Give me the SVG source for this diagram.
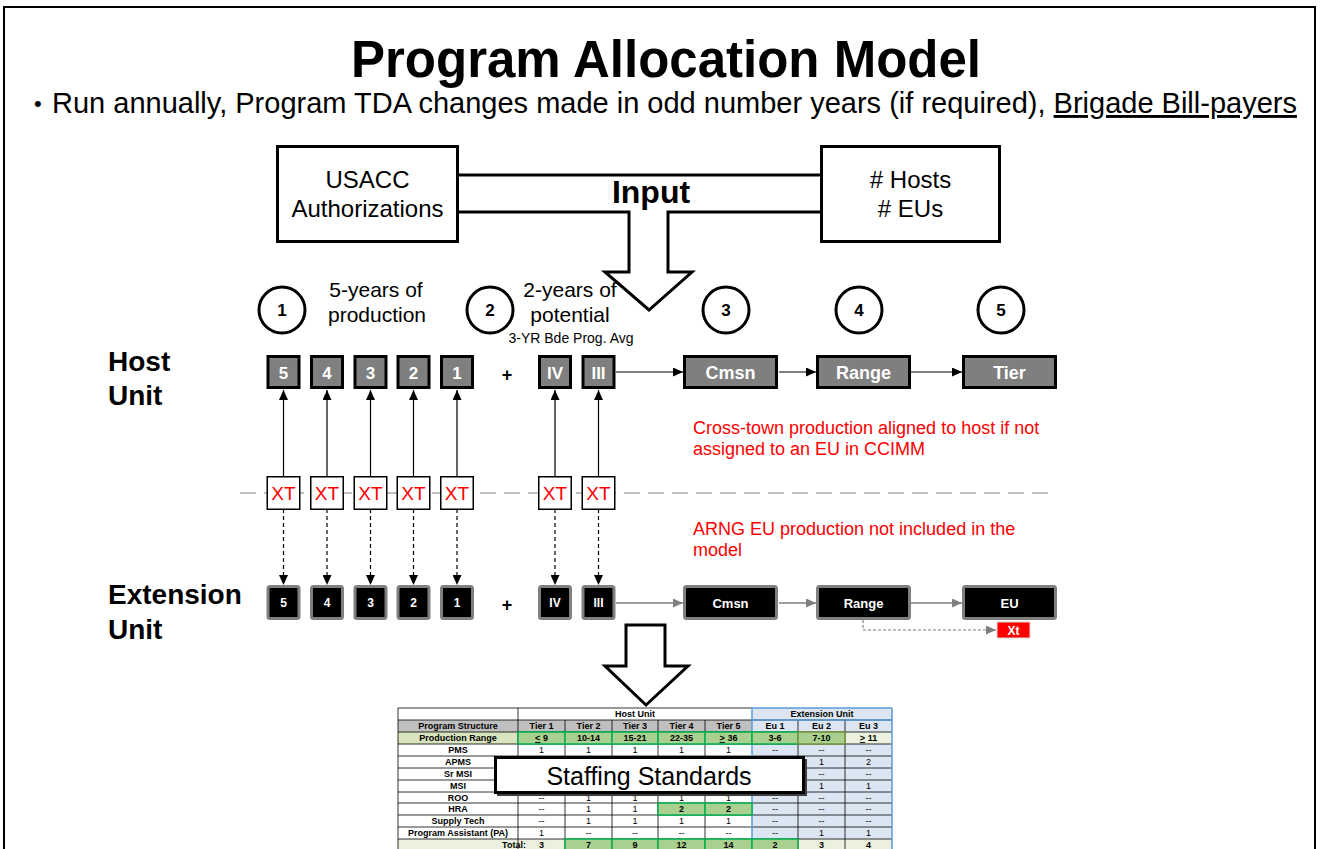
<svg xmlns="http://www.w3.org/2000/svg" width="1320" height="849" viewBox="0 0 1320 849">
  <style>
    text { font-family: "Liberation Sans", Arial, sans-serif; }
    .title { font-size: 51px; font-weight: bold; text-anchor: middle; }
    .bullet { font-size: 29px; }
    .boxtxt { font-size: 24px; text-anchor: middle; }
    .input { font-size: 32px; font-weight: bold; text-anchor: middle; }
    .circ { fill: #fff; stroke: #000; stroke-width: 3; }
    .circnum { font-size: 17px; font-weight: bold; text-anchor: middle; }
    .cap { font-size: 21px; text-anchor: middle; }
    .small { font-size: 14px; text-anchor: middle; }
    .rowlbl { font-size: 28px; font-weight: bold; }
    .hbox { fill: #7f7f7f; stroke: #000; stroke-width: 3; }
    .htxt { fill: #fff; font-size: 17px; font-weight: bold; text-anchor: middle; }
    .htxt2 { fill: #fff; font-size: 18px; font-weight: bold; text-anchor: middle; }
    .ebox { fill: #000; stroke: #7f7f7f; stroke-width: 3; }
    .etxt { fill: #fff; font-size: 12px; font-weight: bold; text-anchor: middle; }
    .etxt2 { fill: #fff; font-size: 13px; font-weight: bold; text-anchor: middle; }
    .xt { fill: #fff; stroke: #000; stroke-width: 1.5; }
    .xttxt { fill: #ff0000; font-size: 19px; text-anchor: middle; }
    .plus { font-size: 18px; font-weight: bold; text-anchor: middle; }
    .note { fill: #ff0000; font-size: 18px; }
    .up { stroke: #000; stroke-width: 1.2; fill: none; }
    .down { stroke: #000; stroke-width: 1.2; stroke-dasharray: 4 3; fill: none; }
    .flow { stroke: #000; stroke-width: 1.2; fill: none; }
    .gflow { stroke: #7f7f7f; stroke-width: 1.5; fill: none; }
    .big { fill: #fff; stroke: #000; stroke-width: 3; }
    .t { font-size: 9px; text-anchor: middle; }
    .tb { font-size: 9px; font-weight: bold; text-anchor: middle; }
    .grid { stroke: #000; stroke-width: 0.8; fill: none; }
    .blue { stroke: #5b9bd5; stroke-width: 1.5; fill: none; }
    .green { fill: #a9d08e; stroke: #00b050; stroke-width: 1.5; }
  </style>
  <defs>
    <marker id="ah" markerUnits="userSpaceOnUse" markerWidth="10" markerHeight="9" refX="10" refY="4.5" orient="auto">
      <path d="M0,0 L10,4.5 L0,9 z" fill="#000"/>
    </marker>
    <marker id="ahg" markerUnits="userSpaceOnUse" markerWidth="10" markerHeight="9" refX="10" refY="4.5" orient="auto">
      <path d="M0,0 L10,4.5 L0,9 z" fill="#7f7f7f"/>
    </marker>
  </defs>

  <rect width="1320" height="849" fill="#fff"/>
  <!-- slide frame -->
  <path d="M4,849 V7 H1315 V849" fill="none" stroke="#000" stroke-width="2"/>

  <!-- heading -->
  <text class="title" x="666" y="77">Program Allocation Model</text>
  <text x="34" y="111" font-size="22">•</text>
  <text class="bullet" x="52" y="113">Run annually, Program TDA changes made in odd number years (if required), <tspan text-decoration="underline">Brigade Bill-payers</tspan></text>

  <!-- input sources -->
  <g id="usacc">
    <rect x="277.5" y="146.5" width="180" height="95" fill="#fff" stroke="#000" stroke-width="3"/>
    <text class="boxtxt" x="367.5" y="188">USACC</text>
    <text class="boxtxt" x="367.5" y="217">Authorizations</text>
  </g>
  <g id="hosts-eus">
    <rect x="821.5" y="146.5" width="178" height="95" fill="#fff" stroke="#000" stroke-width="3"/>
    <text class="boxtxt" x="910.5" y="188"># Hosts</text>
    <text class="boxtxt" x="910.5" y="217"># EUs</text>
  </g>
  <g id="input-arrow">
    <path d="M459,175 H821" fill="none" stroke="#000" stroke-width="3"/>
    <path d="M459,212 H629 V272 H605 L649,310 L692,272 H668 V212 H821" fill="none" stroke="#000" stroke-width="3" stroke-linejoin="miter"/>
    <text class="input" x="651" y="203">Input</text>
  </g>

  <!-- step markers -->
  <g id="step1"><circle class="circ" cx="282" cy="310" r="23"/><text class="circnum" x="282" y="316">1</text></g>
  <g id="step2"><circle class="circ" cx="490" cy="310" r="23"/><text class="circnum" x="490" y="316">2</text></g>
  <g id="step3"><circle class="circ" cx="726" cy="310" r="23"/><text class="circnum" x="726" y="316">3</text></g>
  <g id="step4"><circle class="circ" cx="859" cy="310" r="23"/><text class="circnum" x="859" y="316">4</text></g>
  <g id="step5"><circle class="circ" cx="1001" cy="310" r="23"/><text class="circnum" x="1001" y="316">5</text></g>
  <g id="captions">
    <text class="cap" x="376" y="297">5-years of</text>
    <text class="cap" x="377" y="322">production</text>
    <text class="cap" x="570" y="297">2-years of</text>
    <text class="cap" x="570" y="322">potential</text>
    <text class="small" x="571" y="343">3-YR Bde Prog. Avg</text>
  </g>

  <!-- row labels -->
  <text class="rowlbl" x="108" y="371">Host</text>
  <text class="rowlbl" x="108" y="405">Unit</text>
  <text class="rowlbl" x="108" y="604">Extension</text>
  <text class="rowlbl" x="108" y="639">Unit</text>

  <!-- cross-town divider -->
  <path d="M240,493 H1050" stroke="#bfbfbf" stroke-width="2" stroke-dasharray="16 8" fill="none"/>

  <!-- connectors -->
  <g id="connectors">
    <path class="up" d="M283.5,476 V390" marker-end="url(#ah)"/>
    <path class="up" d="M327,476 V390" marker-end="url(#ah)"/>
    <path class="up" d="M370.5,476 V390" marker-end="url(#ah)"/>
    <path class="up" d="M413.5,476 V390" marker-end="url(#ah)"/>
    <path class="up" d="M457,476 V390" marker-end="url(#ah)"/>
    <path class="up" d="M555,476 V390" marker-end="url(#ah)"/>
    <path class="up" d="M598.5,476 V390" marker-end="url(#ah)"/>
    <path class="down" d="M283.5,509 V585" marker-end="url(#ah)"/>
    <path class="down" d="M327,509 V585" marker-end="url(#ah)"/>
    <path class="down" d="M370.5,509 V585" marker-end="url(#ah)"/>
    <path class="down" d="M413.5,509 V585" marker-end="url(#ah)"/>
    <path class="down" d="M457,509 V585" marker-end="url(#ah)"/>
    <path class="down" d="M555,509 V585" marker-end="url(#ah)"/>
    <path class="down" d="M598.5,509 V585" marker-end="url(#ah)"/>
    <path class="flow" d="M616,372 H683" marker-end="url(#ah)"/>
    <path class="flow" d="M779,372 H816" marker-end="url(#ah)"/>
    <path class="flow" d="M911,372 H962" marker-end="url(#ah)"/>
    <path class="gflow" d="M616,603 H683" marker-end="url(#ahg)"/>
    <path class="gflow" d="M779,603 H816" marker-end="url(#ahg)"/>
    <path class="gflow" d="M911,603 H962" marker-end="url(#ahg)"/>
    <path d="M863,620 V630 H996" stroke="#7f7f7f" stroke-width="1.2" stroke-dasharray="3 2" fill="none" marker-end="url(#ahg)"/>
  </g>

  <!-- host unit row -->
  <g id="host-5"><rect class="hbox" x="268" y="356.5" width="31" height="31"/><text class="htxt" x="283.5" y="378.5">5</text></g>
  <g id="host-4"><rect class="hbox" x="311.5" y="356.5" width="31" height="31"/><text class="htxt" x="327" y="378.5">4</text></g>
  <g id="host-3"><rect class="hbox" x="355" y="356.5" width="31" height="31"/><text class="htxt" x="370.5" y="378.5">3</text></g>
  <g id="host-2"><rect class="hbox" x="398" y="356.5" width="31" height="31"/><text class="htxt" x="413.5" y="378.5">2</text></g>
  <g id="host-1"><rect class="hbox" x="441.5" y="356.5" width="31" height="31"/><text class="htxt" x="457" y="378.5">1</text></g>
  <text class="plus" x="507" y="381">+</text>
  <g id="host-IV"><rect class="hbox" x="539.5" y="356.5" width="31" height="31"/><text class="htxt" x="555" y="378.5">IV</text></g>
  <g id="host-III"><rect class="hbox" x="583" y="356.5" width="31" height="31"/><text class="htxt" x="598.5" y="378.5">III</text></g>
  <g id="host-cmsn"><rect class="hbox" x="684.5" y="356.5" width="92" height="31"/><text class="htxt2" x="730.5" y="379">Cmsn</text></g>
  <g id="host-range"><rect class="hbox" x="817.5" y="356.5" width="92" height="31"/><text class="htxt2" x="863.5" y="379">Range</text></g>
  <g id="host-tier"><rect class="hbox" x="963.5" y="356.5" width="92" height="31"/><text class="htxt2" x="1009.5" y="379">Tier</text></g>

  <!-- cross-town boxes -->
  <g id="xt-5"><rect class="xt" x="267.25" y="476.75" width="32.5" height="32.5"/><text class="xttxt" x="283.5" y="500">XT</text></g>
  <g id="xt-4"><rect class="xt" x="310.75" y="476.75" width="32.5" height="32.5"/><text class="xttxt" x="327" y="500">XT</text></g>
  <g id="xt-3"><rect class="xt" x="354.25" y="476.75" width="32.5" height="32.5"/><text class="xttxt" x="370.5" y="500">XT</text></g>
  <g id="xt-2"><rect class="xt" x="397.25" y="476.75" width="32.5" height="32.5"/><text class="xttxt" x="413.5" y="500">XT</text></g>
  <g id="xt-1"><rect class="xt" x="440.75" y="476.75" width="32.5" height="32.5"/><text class="xttxt" x="457" y="500">XT</text></g>
  <g id="xt-IV"><rect class="xt" x="538.75" y="476.75" width="32.5" height="32.5"/><text class="xttxt" x="555" y="500">XT</text></g>
  <g id="xt-III"><rect class="xt" x="582.25" y="476.75" width="32.5" height="32.5"/><text class="xttxt" x="598.5" y="500">XT</text></g>

  <!-- notes -->
  <text class="note" x="693" y="434">Cross-town production aligned to host if not</text>
  <text class="note" x="693" y="455">assigned to an EU in CCIMM</text>
  <text class="note" x="693" y="535">ARNG EU production not included in the</text>
  <text class="note" x="693" y="556">model</text>

  <!-- extension unit row -->
  <g id="ext-5"><rect class="ebox" x="268" y="586.5" width="31" height="32" rx="2"/><text class="etxt" x="283.5" y="607">5</text></g>
  <g id="ext-4"><rect class="ebox" x="311.5" y="586.5" width="31" height="32" rx="2"/><text class="etxt" x="327" y="607">4</text></g>
  <g id="ext-3"><rect class="ebox" x="355" y="586.5" width="31" height="32" rx="2"/><text class="etxt" x="370.5" y="607">3</text></g>
  <g id="ext-2"><rect class="ebox" x="398" y="586.5" width="31" height="32" rx="2"/><text class="etxt" x="413.5" y="607">2</text></g>
  <g id="ext-1"><rect class="ebox" x="441.5" y="586.5" width="31" height="32" rx="2"/><text class="etxt" x="457" y="607">1</text></g>
  <text class="plus" x="507" y="611">+</text>
  <g id="ext-IV"><rect class="ebox" x="539.5" y="586.5" width="31" height="32" rx="2"/><text class="etxt" x="555" y="607">IV</text></g>
  <g id="ext-III"><rect class="ebox" x="583" y="586.5" width="31" height="32" rx="2"/><text class="etxt" x="598.5" y="607">III</text></g>
  <g id="ext-cmsn"><rect class="ebox" x="684.5" y="586.5" width="92" height="32" rx="2"/><text class="etxt2" x="730.5" y="607.5">Cmsn</text></g>
  <g id="ext-range"><rect class="ebox" x="817.5" y="586.5" width="92" height="32" rx="2"/><text class="etxt2" x="863.5" y="607.5">Range</text></g>
  <g id="ext-eu"><rect class="ebox" x="963.5" y="586.5" width="92" height="32" rx="2"/><text class="etxt2" x="1009.5" y="607.5">EU</text></g>
  <g id="ext-xt"><rect x="997" y="622" width="33" height="16" fill="#ff0000" stroke="#d9d9d9" stroke-width="1"/><text class="etxt" x="1013.5" y="634.5">Xt</text></g>

  <!-- output arrow -->
  <g id="output-arrow">
    <path class="big" d="M626,625 H665 V666 H688 L646,705 L605,666 H626 Z"/>
  </g>

  <!-- staffing table -->
  <g id="staffing-table">
    <!-- backgrounds -->
    <rect x="752" y="708" width="140" height="12" fill="#dce6f2"/>
    <rect x="398" y="720" width="354" height="12" fill="#bfbfbf"/>
    <rect x="752" y="720" width="140" height="12" fill="#dce6f2"/>
    <rect x="398" y="732" width="120" height="12" fill="#d7e4bd"/>
    <rect x="845" y="732" width="47" height="12" fill="#ebf1de"/>
    <rect x="752" y="744" width="140" height="95" fill="#dce6f2"/>
    <rect x="398" y="839" width="167" height="12" fill="#ebf1de"/>
    <rect x="798" y="839" width="94" height="12" fill="#ebf1de"/>
    <!-- grid -->
    <path class="grid" d="M398,708 H752 M398,720 H892 M398,732 H892 M398,744 H892 M398,756 H892 M398,768 H892 M398,780 H892 M398,792 H892 M398,803 H892 M398,815 H892 M398,827 H892 M398,839 H892"/>
    <path class="grid" d="M398,708 V851 M518,708 V851 M565,720 V851 M612,720 V851 M658,720 V851 M705,720 V851 M798,720 V851 M845,720 V851"/>
    <path class="blue" d="M752,708 V851 M892,708 V851 M752,708 H892 M752,720 H892"/>
    <!-- highlighted cells -->
    <rect class="green" x="518" y="732" width="47" height="12"/>
    <rect class="green" x="565" y="732" width="47" height="12"/>
    <rect class="green" x="612" y="732" width="46" height="12"/>
    <rect class="green" x="658" y="732" width="47" height="12"/>
    <rect class="green" x="705" y="732" width="47" height="12"/>
    <rect class="green" x="752" y="732" width="46" height="12"/>
    <rect x="798" y="732" width="47" height="12" fill="#a9d08e" stroke="#77933c" stroke-width="1.5"/>
    <rect class="green" x="658" y="803" width="47" height="12"/>
    <rect class="green" x="705" y="803" width="47" height="12"/>
    <rect class="green" x="565" y="839" width="47" height="12"/>
    <rect class="green" x="612" y="839" width="46" height="12"/>
    <rect class="green" x="658" y="839" width="47" height="12"/>
    <rect class="green" x="705" y="839" width="47" height="12"/>
    <rect class="green" x="752" y="839" width="46" height="12"/>
    <!-- header text -->
    <text class="tb" x="635" y="717">Host Unit</text>
    <text class="tb" x="822" y="717">Extension Unit</text>
    <text class="tb" x="458" y="729">Program Structure</text>
    <text class="tb" x="541.5" y="729">Tier 1</text>
    <text class="tb" x="588.5" y="729">Tier 2</text>
    <text class="tb" x="635" y="729">Tier 3</text>
    <text class="tb" x="681.5" y="729">Tier 4</text>
    <text class="tb" x="728.5" y="729">Tier 5</text>
    <text class="tb" x="775" y="729">Eu 1</text>
    <text class="tb" x="821.5" y="729">Eu 2</text>
    <text class="tb" x="868.5" y="729">Eu 3</text>
    <text class="tb" x="458" y="741">Production Range</text>
    <text class="tb" x="541.5" y="741"><tspan text-decoration="underline">&lt;</tspan> 9</text>
    <text class="tb" x="588.5" y="741">10-14</text>
    <text class="tb" x="635" y="741">15-21</text>
    <text class="tb" x="681.5" y="741">22-35</text>
    <text class="tb" x="728.5" y="741"><tspan text-decoration="underline">&gt;</tspan> 36</text>
    <text class="tb" x="775" y="741">3-6</text>
    <text class="tb" x="821.5" y="741">7-10</text>
    <text class="tb" x="868.5" y="741"><tspan text-decoration="underline">&gt;</tspan> 11</text>
    <!-- row labels -->
    <text class="tb" x="458" y="753">PMS</text>
    <text class="tb" x="458" y="765">APMS</text>
    <text class="tb" x="458" y="777">Sr MSI</text>
    <text class="tb" x="458" y="789">MSI</text>
    <text class="tb" x="458" y="801">ROO</text>
    <text class="tb" x="458" y="812">HRA</text>
    <text class="tb" x="458" y="824">Supply Tech</text>
    <text class="tb" x="458" y="836">Program Assistant (PA)</text>
    <text class="tb" x="514" y="848" text-anchor="end">Total:</text>
    <!-- PMS -->
    <text class="t" x="541.5" y="753">1</text><text class="t" x="588.5" y="753">1</text><text class="t" x="635" y="753">1</text><text class="t" x="681.5" y="753">1</text><text class="t" x="728.5" y="753">1</text><text class="t" x="775" y="753">--</text><text class="t" x="821.5" y="753">--</text><text class="t" x="868.5" y="753">--</text>
    <!-- APMS / Sr MSI / MSI (extension columns) -->
    <text class="t" x="821.5" y="765">1</text><text class="t" x="868.5" y="765">2</text>
    <text class="t" x="821.5" y="777">--</text><text class="t" x="868.5" y="777">--</text>
    <text class="t" x="821.5" y="789">1</text><text class="t" x="868.5" y="789">1</text>
    <!-- ROO -->
    <text class="t" x="541.5" y="801">--</text><text class="t" x="588.5" y="801">1</text><text class="t" x="635" y="801">1</text><text class="t" x="681.5" y="801">1</text><text class="t" x="728.5" y="801">1</text><text class="t" x="775" y="801">--</text><text class="t" x="821.5" y="801">--</text><text class="t" x="868.5" y="801">--</text>
    <!-- HRA -->
    <text class="t" x="541.5" y="812">--</text><text class="t" x="588.5" y="812">1</text><text class="t" x="635" y="812">1</text><text class="tb" x="681.5" y="812">2</text><text class="tb" x="728.5" y="812">2</text><text class="t" x="775" y="812">--</text><text class="t" x="821.5" y="812">--</text><text class="t" x="868.5" y="812">--</text>
    <!-- Supply Tech -->
    <text class="t" x="541.5" y="824">--</text><text class="t" x="588.5" y="824">1</text><text class="t" x="635" y="824">1</text><text class="t" x="681.5" y="824">1</text><text class="t" x="728.5" y="824">1</text><text class="t" x="775" y="824">--</text><text class="t" x="821.5" y="824">--</text><text class="t" x="868.5" y="824">--</text>
    <!-- Program Assistant -->
    <text class="t" x="541.5" y="836">1</text><text class="t" x="588.5" y="836">--</text><text class="t" x="635" y="836">--</text><text class="t" x="681.5" y="836">--</text><text class="t" x="728.5" y="836">--</text><text class="t" x="775" y="836">--</text><text class="t" x="821.5" y="836">1</text><text class="t" x="868.5" y="836">1</text>
    <!-- Total -->
    <text class="tb" x="541.5" y="848">3</text><text class="tb" x="588.5" y="848">7</text><text class="tb" x="635" y="848">9</text><text class="tb" x="681.5" y="848">12</text><text class="tb" x="728.5" y="848">14</text><text class="tb" x="775" y="848">2</text><text class="tb" x="821.5" y="848">3</text><text class="tb" x="868.5" y="848">4</text>
  </g>

  <!-- staffing standards label -->
  <g id="staffing-label">
    <rect x="497" y="759" width="310" height="37" fill="#404040"/>
    <rect x="495.5" y="757.5" width="308" height="35" fill="#fff" stroke="#000" stroke-width="3"/>
    <text x="649" y="785" font-size="25" text-anchor="middle">Staffing Standards</text>
  </g>
</svg>
